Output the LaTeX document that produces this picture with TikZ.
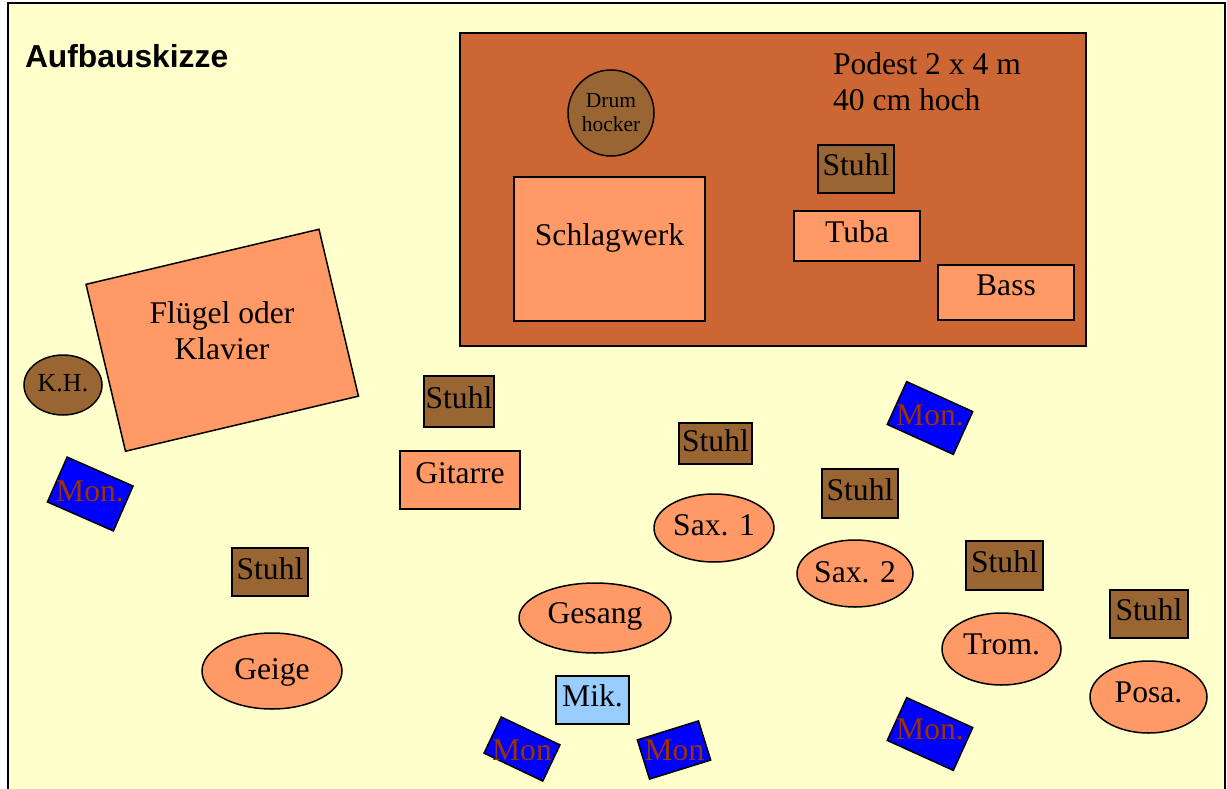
\documentclass[tikz,border=0pt]{standalone}
\usepackage{fontspec}
\setmainfont{Liberation Serif}
\newfontfamily\titlefont{Liberation Sans}
\usetikzlibrary{shapes.geometric}
\definecolor{bg}{HTML}{FFFFCC}
\definecolor{podestc}{HTML}{CC6633}
\definecolor{salmon}{HTML}{FF9966}
\definecolor{brownc}{HTML}{996633}
\definecolor{monblue}{HTML}{0000FF}
\definecolor{montext}{HTML}{993300}
\definecolor{mikc}{HTML}{99CCFF}
\begin{document}
\begin{tikzpicture}[x=1pt,y=-1pt,
  every node/.style={inner sep=0pt,outer sep=0pt,font=\fontsize{31.6}{36}\selectfont},
  shp/.style={draw=black,line width=1.5pt,text height=21pt,text depth=#1},
  shp/.default=7pt,
  stuhlbox/.style={shp,rectangle,fill=brownc,minimum width=#1},
  stuhlbox/.default=76pt,
  instr/.style={shp=#1,rectangle,fill=salmon},
  oval/.style={shp=#1,ellipse,fill=salmon},
  monbox/.style={draw=black,line width=1.5pt,rectangle,fill=monblue},
  montxt/.style={text=montext,anchor=base},
  plain/.style={anchor=base}
]
\useasboundingbox (0,0) rectangle (1227,789);
\fill[white] (0,0) rectangle (1227,789);
\fill[bg] (8,3) rectangle (1225,800);
\draw[line width=2pt] (8,800) -- (8,3) -- (1225,3) -- (1225,800);

% title
\node[anchor=base west,font=\titlefont\bfseries\fontsize{31.8}{36}\selectfont] (title) at (25,68) {Aufbauskizze};

% Podest
\node[draw=black,line width=1.5pt,fill=podestc,rectangle,minimum width=626pt,minimum height=313pt] (podest) at (773,189.5) {};
\node[anchor=north west,align=left] (podesttxt) at (833,53) {Podest 2 x 4 m\\40 cm hoch};
\node[draw=black,line width=1.5pt,fill=brownc,circle,minimum size=86pt,align=center,font=\fontsize{21.5}{24}\selectfont] (drum) at (611,113) {Drum\\hocker};
\node[instr=29pt,minimum width=191pt,minimum height=144pt] (schlag) at (609.5,249) {Schlagwerk};
\node[stuhlbox,minimum height=48pt] (stuhlP) at (856,169) {Stuhl};
\node[instr=9pt,minimum width=126pt,minimum height=50pt] (tuba) at (857,236) {Tuba};
\node[instr=16pt,minimum width=136pt,minimum height=55pt] (bass) at (1006,292.5) {Bass};

% Fluegel
\node[draw=black,line width=1.5pt,fill=salmon,rectangle,rotate=13.3,minimum width=239.4pt,minimum height=171.5pt] (fluegel) at (222.25,340.25) {};
\node[anchor=north,align=center] (fluegeltxt) at (222,302) {Flügel oder\\Klavier};
\node[shp=4pt,text height=17pt,ellipse,fill=brownc,minimum width=78pt,minimum height=60pt,font=\fontsize{26}{30}\selectfont] (kh) at (63,385) {K.H.};

% monitors
\node[monbox,rotate=-23.7,minimum width=72pt,minimum height=49pt] (monL) at (90.25,494) {};
\node[montxt] (monLt) at (90,501) {Mon.};
\node[monbox,rotate=-24.4,minimum width=72.5pt,minimum height=47pt] (monTR) at (930,418) {};
\node[montxt] (monTRt) at (930,425) {Mon.};
\node[monbox,rotate=-24.4,minimum width=72.5pt,minimum height=47pt] (monBR) at (930,734) {};
\node[montxt] (monBRt) at (930,739) {Mon.};
\node[monbox,rotate=-25.4,minimum width=65pt,minimum height=40pt] (monBL) at (522,749) {};
\node[montxt] (monBLt) at (522,760) {Mon};
\node[monbox,rotate=17.3,minimum width=64pt,minimum height=41pt] (monBM) at (674,750) {};
\node[montxt] (monBMt) at (674.5,760) {Mon};

% chairs
\node[stuhlbox=70pt,minimum height=51pt] (stuhlG) at (459,401.5) {Stuhl};
\node[stuhlbox=73pt,minimum height=41pt,shp=5pt] (stuhlS1) at (715.5,443.5) {Stuhl};
\node[stuhlbox,minimum height=49pt] (stuhlS2) at (860,493.5) {Stuhl};
\node[stuhlbox=77pt,minimum height=49pt] (stuhlT) at (1004.5,565.5) {Stuhl};
\node[stuhlbox=78pt,minimum height=48pt,shp=9pt] (stuhlP2) at (1149,614) {Stuhl};
\node[stuhlbox,minimum height=48pt] (stuhlGe) at (270,572) {Stuhl};

% players
\node[instr=15pt,minimum width=120pt,minimum height=58pt] (gitarre) at (460,480) {Gitarre};
\node[oval=7pt,minimum width=120pt,minimum height=68pt] (sax1) at (714,528) {Sax. 1};
\node[oval=3pt,minimum width=116pt,minimum height=67pt] (sax2) at (855,573.5) {Sax. 2};
\node[oval=11pt,minimum width=119pt,minimum height=72pt] (trom) at (1001.5,649) {Trom.};
\node[oval=10pt,minimum width=117pt,minimum height=72pt] (posa) at (1148.5,697) {Posa.};
\node[oval=11pt,minimum width=152pt,minimum height=70pt] (gesang) at (595,618) {Gesang};
\node[oval=5pt,minimum width=140pt,minimum height=76pt] (geige) at (272,671) {Geige};
\node[shp=8pt,rectangle,fill=mikc,minimum width=73pt,minimum height=48pt] (mik) at (592.5,700) {Mik.};
\end{tikzpicture}
\end{document}
